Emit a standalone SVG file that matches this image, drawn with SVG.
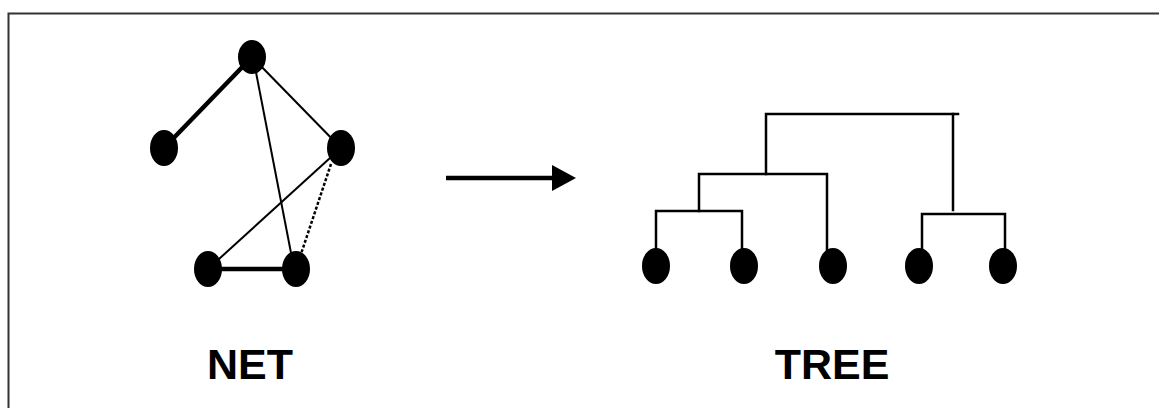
<svg xmlns="http://www.w3.org/2000/svg" width="1159" height="408" viewBox="0 0 1159 408">
<style>
.node{fill:#000}
.thin{stroke:#000;stroke-width:2;fill:none}
.thick{stroke:#000;stroke-width:4.5;fill:none}
.dot{stroke:#000;stroke-width:2.5;stroke-dasharray:3 2;fill:none}
.tree{stroke:#000;stroke-width:2.5;fill:none;stroke-linecap:square}
.lbl{font-family:"Liberation Sans",Arial,sans-serif;font-weight:bold;font-size:43px;fill:#000;text-anchor:middle}
</style>
<rect x="0" y="0" width="1159" height="408" fill="#fff"/>
<path d="M8.5,420 V13.5 H1170" fill="none" stroke="#333" stroke-width="2"/>
<g id="connectors">
<line class="thick" x1="252" y1="57" x2="164" y2="148"/>
<line class="thin" x1="254" y1="62" x2="292" y2="258"/>
<line class="thin" x1="252" y1="57" x2="341" y2="148"/>
<line class="thin" x1="341" y1="148" x2="208" y2="269"/>
<line class="dot" x1="331" y1="164" x2="301" y2="254"/>
<line class="thick" x1="208" y1="269" x2="296" y2="269"/>
<line class="thick" x1="446" y1="178" x2="556" y2="178" stroke-width="5"/>
<polygon points="552,165 576,178 552,191" fill="#000"/>
<path class="tree" d="M656,250 V211 H742 V250"/>
<path class="tree" d="M699,211 V174 H827 V250"/>
<path class="tree" d="M766,174 V114 H958"/>
<path class="tree" d="M953,114 V210"/>
<path class="tree" d="M922,250 V214 H1005 V250"/>
</g>
<g id="net-top"><ellipse class="node" cx="252" cy="57" rx="14" ry="17"/></g>
<g id="net-left"><ellipse class="node" cx="164" cy="148" rx="14" ry="18"/></g>
<g id="net-right"><ellipse class="node" cx="341" cy="148" rx="14" ry="18"/></g>
<g id="net-bl"><ellipse class="node" cx="208" cy="269" rx="14" ry="18"/></g>
<g id="net-br"><ellipse class="node" cx="296" cy="269" rx="14" ry="18"/></g>
<g id="leaf1"><ellipse class="node" cx="656" cy="266" rx="14" ry="18"/></g>
<g id="leaf2"><ellipse class="node" cx="744" cy="266" rx="14" ry="18"/></g>
<g id="leaf3"><ellipse class="node" cx="833" cy="266" rx="14" ry="18"/></g>
<g id="leaf4"><ellipse class="node" cx="919" cy="266" rx="14" ry="18"/></g>
<g id="leaf5"><ellipse class="node" cx="1003" cy="266" rx="14" ry="18"/></g>
<g id="label-net"><text class="lbl" x="250" y="379">NET</text></g>
<g id="label-tree"><text class="lbl" x="832" y="379">TREE</text></g>
</svg>
